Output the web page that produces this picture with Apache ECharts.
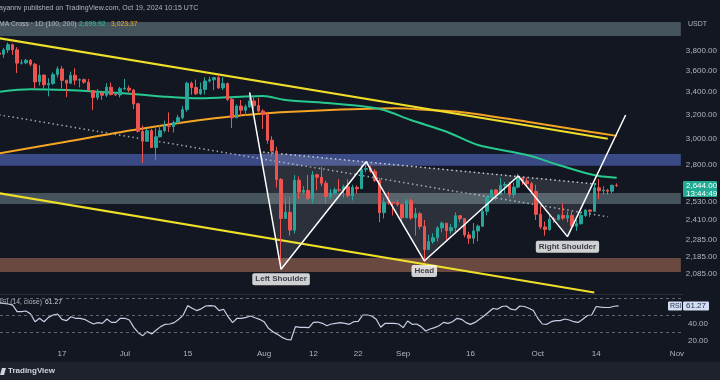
<!DOCTYPE html>
<html><head><meta charset="utf-8">
<script src="https://cdn.jsdelivr.net/npm/echarts@6/dist/echarts.min.js"></script>
<style>html,body{margin:0;padding:0;background:#131722;overflow:hidden}#c{width:720px;height:380px}</style>
</head><body><div id="c"></div>
<script>
// ---------------- DATA ----------------
const startDate = '2024-06-03'; // first daily candle, one candle per day
const opens = [3780,3767,3811,3865,3812,3678,3681,3706,3667,3497,3561,3469,3481,3566,3621,3511,3484,3560,3513,3518,
3494,3416,3353,3394,3373,3447,3380,3376,3433,3438,3420,3296,3060,2980,3066,2930,3016,3066,3101,3100,
3134,3175,3245,3484,3444,3387,3426,3505,3517,3537,3440,3481,3336,3174,3276,3240,3270,3321,3280,3232,
3203,2988,2902,2688,2420,2460,2345,2682,2597,2610,2555,2722,2704,2661,2568,2592,2614,2612,2636,2573,
2631,2622,2763,2768,2747,2681,2458,2528,2527,2526,2513,2425,2538,2423,2451,2368,2225,2273,2297,2359,
2389,2341,2361,2438,2418,2315,2294,2340,2370,2467,2561,2613,2581,2646,2652,2581,2633,2697,2677,2658,
2603,2447,2365,2349,2415,2414,2440,2422,2440,2370,2386,2439,2475,2467,2628,2607,2611,2604,2646];
const highs = [3830,3832,3888,3877,3840,3714,3720,3718,3680,3658,3568,3530,3587,3646,3650,3517,3595,3627,3530,3528,
3525,3420,3430,3401,3484,3490,3400,3450,3525,3462,3430,3305,3110,3080,3080,3085,3110,3150,3220,3150,
3200,3276,3498,3500,3518,3490,3540,3545,3545,3563,3540,3490,3350,3290,3330,3290,3400,3366,3350,3249,
3225,3020,2935,2698,2555,2560,2720,2710,2640,2720,2750,2730,2780,2680,2620,2630,2690,2650,2690,2650,
2645,2800,2820,2790,2765,2700,2560,2600,2530,2545,2515,2550,2553,2490,2462,2410,2315,2325,2370,2400,
2390,2385,2460,2440,2420,2335,2390,2380,2490,2570,2615,2620,2700,2670,2670,2665,2730,2705,2700,2670,
2650,2500,2400,2440,2430,2450,2520,2465,2465,2410,2460,2480,2480,2660,2690,2640,2620,2650,2660];
const lows = [3755,3730,3780,3760,3580,3664,3667,3647,3435,3462,3425,3363,3469,3538,3435,3355,3478,3466,3445,3478,
3413,3240,3330,3332,3355,3370,3367,3353,3420,3400,3250,3050,2810,2975,2925,2830,3010,3050,3055,3050,
3120,3160,3225,3378,3375,3375,3380,3490,3420,3430,3420,3320,3087,3170,3190,3190,3260,3250,3220,3080,
2960,2860,2630,2111,2420,2310,2323,2550,2583,2540,2520,2610,2640,2520,2550,2580,2600,2560,2560,2540,
2590,2620,2740,2735,2670,2395,2420,2510,2440,2500,2400,2420,2410,2310,2350,2150,2223,2260,2275,2330,
2280,2322,2335,2396,2300,2260,2260,2275,2365,2440,2540,2540,2580,2590,2560,2555,2625,2650,2640,2590,
2410,2350,2310,2340,2390,2405,2410,2395,2360,2340,2380,2430,2430,2465,2550,2580,2580,2590,2635];
const closes = [3767,3811,3865,3812,3678,3681,3706,3667,3497,3561,3469,3481,3566,3621,3511,3484,3560,3513,3518,3494,
3416,3353,3394,3373,3447,3380,3376,3433,3438,3420,3296,3060,2980,3066,2930,3016,3066,3101,3100,3134,
3175,3245,3484,3444,3387,3426,3505,3517,3537,3440,3481,3336,3174,3276,3240,3270,3321,3280,3232,3203,
2988,2902,2688,2420,2460,2345,2682,2597,2610,2555,2722,2704,2661,2568,2592,2614,2612,2636,2573,2631,
2622,2763,2768,2747,2681,2458,2528,2527,2526,2513,2425,2538,2423,2451,2368,2225,2273,2297,2359,2389,
2341,2361,2438,2418,2315,2294,2340,2370,2467,2561,2613,2581,2646,2652,2581,2633,2697,2677,2658,2603,
2447,2365,2349,2415,2414,2440,2422,2440,2370,2386,2439,2475,2467,2628,2607,2611,2604,2646,2644];
const rsi = [65.0,64.3,63.5,62.4,54.5,54.5,55.3,51.8,42.7,46.7,
42.7,47.8,50.6,51.8,45.5,43.9,48.6,46.7,46.7,45.5,
42.7,40.0,41.6,40.8,45.9,41.9,41.9,46.7,46.7,44.7,
36.1,29.8,26.3,31.0,28.2,32.9,36.9,39.6,40.0,41.6,
45.5,50.6,61.6,58.6,55.8,57.8,61.2,61.6,61.2,55.8,
57.4,48.6,41.6,46.7,46.7,47.8,49.4,47.4,45.5,42.7,
34.9,31.0,27.8,24.3,22.0,21.2,36.9,36.1,36.1,35.7,
41.9,42.3,40.8,38.0,40.0,40.8,41.6,40.8,39.6,42.7,
43.1,50.6,50.6,49.4,45.5,36.1,40.8,40.8,40.8,40.0,
35.7,43.5,39.6,40.0,36.9,31.8,34.1,35.7,38.0,41.9,
40.8,42.7,46.7,45.5,41.6,39.6,41.9,45.5,49.4,53.8,
58.2,57.4,60.6,61.2,57.4,56.5,61.2,60.6,58.6,55.8,
46.7,40.0,39.6,42.7,43.9,43.9,45.9,44.7,42.7,41.9,
45.5,49.8,50.6,60.6,59.8,59.4,59.4,60.9,61.27];
const ma100 = [['2024-06-03',3405],['2024-06-10',3427],['2024-06-18',3420],['2024-06-25',3405],['2024-07-03',3384],
['2024-07-10',3360],['2024-07-18',3345],['2024-07-27',3360],['2024-08-01',3366],['2024-08-06',3330],['2024-08-16',3300],
['2024-08-24',3270],['2024-08-28',3241],['2024-09-03',3155],['2024-09-11',3057],['2024-09-18',2950],['2024-09-29',2871],
['2024-10-06',2795],['2024-10-12',2735],['2024-10-15',2713],['2024-10-19',2700]];
const ma200 = [['2024-06-03',2884],['2024-06-18',2976],['2024-07-03',3071],['2024-07-18',3155],['2024-07-27',3194],
['2024-08-01',3212],['2024-08-16',3241],['2024-08-31',3256],['2024-09-07',3241],['2024-09-14',3224],['2024-09-29',3141],
['2024-10-13',3057],['2024-10-19',3023]];
const upperChannel = [['2024-06-03',3933],['2024-10-17',3000]];
const lowerChannel = [['2024-06-03',2590],['2024-10-14',1982]];
const longDotted = [['2024-06-03',3199],['2024-10-17',2431]];
const neckline = [['2024-08-01',2894],['2024-10-15',2653]];
const pattern = [['2024-07-29',3396],['2024-08-05',2110],['2024-08-24',2820],['2024-09-06',2158],['2024-09-27',2713],['2024-10-08',2304],['2024-10-21',3198]];
const patternNames = ['Left Shoulder','Head','Right Shoulder'];
const patternNameAt = [1,3,5];
const zones = [[3957,4109],[2789,2879],[2516,2592],[2095,2175]];
const yTickValues = [3800,3600,3400,3200,3000,2800,2530,2410,2285,2185,2085];
const rsiTickValues = [40,20];
const rsiLevels = [70,50,30];
const xTickDates = ['2024-06-17','2024-07-01','2024-07-15','2024-08-01','2024-08-12','2024-08-22','2024-09-01','2024-09-16','2024-10-01','2024-10-14','2024-11-01'];
const xTickLabels = ['17','Jul','15','Aug','12','22','Sep','16','Oct','14','Nov'];

// ---------------- BUILD ----------------
const DAY = 86400000;
const ts = s => Date.parse(s + 'T00:00:00Z');
const t0 = ts(startDate);
const L = Math.log;
const toPt = p => [ts(p[0]), L(p[1])];
const candleData = opens.map((o,i)=>[t0+i*DAY, L(o), L(closes[i]), L(lows[i]), L(highs[i])]);
const rsiData = rsi.map((v,i)=>[t0+i*DAY, v]);
const anchor = ts('2024-06-17');
const xMin = anchor - 13.81*DAY, xMax = anchor + 138.34*DAY;
const FONT = 'Liberation Sans, Arial, sans-serif';
const fmtPrice = v => { const p = Math.round(Math.exp(v)); return String(p).replace(/\B(?=(\d{3})+(?!\d))/g, ',') + '.00'; };
const xTickTs = xTickDates.map(ts);
const zoneColors = ['#45535c','#3a4a84','#45535c','#6a4a40'];

function intersect(a1,a2,b1,b2){
  const d = (a2[0]-a1[0])*(b2[1]-b1[1]) - (a2[1]-a1[1])*(b2[0]-b1[0]);
  const u = ((b1[0]-a1[0])*(b2[1]-b1[1]) - (b1[1]-a1[1])*(b2[0]-b1[0]))/d;
  return [a1[0]+u*(a2[0]-a1[0]), a1[1]+u*(a2[1]-a1[1])];
}
const P = pattern.map(toPt);
const N = neckline.map(toPt);
const triangles = [
  [intersect(P[0],P[1],N[0],N[1]), P[1], P[2]],
  [P[2], P[3], P[4]],
  [P[4], P[5], intersect(P[5],P[6],N[0],N[1])]
];

const lineS = (data, color, width, type, z) => ({type:'line', xAxisIndex:0, yAxisIndex:0, data, symbol:'none', silent:true, z,
  lineStyle:{color, width, type: type||'solid'}});

const chart = echarts.init(document.getElementById('c'), null, {renderer:'canvas'});
const option = {
  animation:false,
  backgroundColor:'#131722',
  textStyle:{fontFamily:FONT},
  grid:[{left:0,right:37,top:16,height:278},{left:0,right:37,top:294.25,height:51}],
  xAxis:[
    {type:'value',gridIndex:0,min:xMin,max:xMax,show:false},
    {type:'value',gridIndex:1,min:xMin,max:xMax,axisLine:{show:false},axisTick:{show:false},splitLine:{show:false},
     axisLabel:{customValues:xTickTs,color:'#b2b5be',fontSize:8,margin:5,fontFamily:FONT,
       formatter:(v)=>{let k=0,b=Infinity;xTickTs.forEach((t,i)=>{if(Math.abs(t-v)<b){b=Math.abs(t-v);k=i;}});return xTickLabels[k];}}}
  ],
  yAxis:[
    {type:'value',gridIndex:0,position:'right',min:L(1974),max:L(4176),axisLine:{show:false},axisTick:{show:false},splitLine:{show:false},
     axisLabel:{customValues:yTickValues.map(L),formatter:fmtPrice,color:'#b2b5be',fontSize:8,margin:5,fontFamily:FONT}},
    {type:'value',gridIndex:1,position:'right',min:15,max:75,axisLine:{show:false},axisTick:{show:false},splitLine:{show:false},
     axisLabel:{customValues:rsiTickValues,formatter:v=>v.toFixed(2),color:'#b2b5be',fontSize:8,margin:5,fontFamily:FONT}}
  ],
  series:[
    {type:'line',xAxisIndex:0,yAxisIndex:0,data:[[xMin,L(3000)]],symbol:'none',lineStyle:{opacity:0},silent:true,z:1,
     markArea:{silent:true,data:zones.map((zn,i)=>[{yAxis:L(zn[0]),itemStyle:{color:zoneColors[i]}},{yAxis:L(zn[1])}])}},
    {type:'custom',xAxisIndex:0,yAxisIndex:0,silent:true,z:2,data:triangles.map(t=>t[0]),
     renderItem:(params,api)=>({type:'polygon',shape:{points:triangles[params.dataIndex].map(p=>api.coord(p))},style:{fill:'rgba(255,255,255,0.11)'}})},
    lineS(longDotted.map(toPt),'rgba(210,212,220,0.75)',1.5,[1.5,3],3),
    lineS(neckline.map(toPt),'rgba(225,227,235,0.85)',1.5,[1.5,3],3),
    Object.assign(lineS(ma200.map(toPt),'#f5a524',2,'solid',4),{smooth:0.3}),
    Object.assign(lineS(ma100.map(toPt),'#27c98f',2,'solid',4),{smooth:0.3}),
    lineS(upperChannel.map(toPt),'#efdf2a',2,'solid',4),
    lineS(lowerChannel.map(toPt),'#efdf2a',2,'solid',4),
    {type:'candlestick',xAxisIndex:0,yAxisIndex:0,z:5,silent:true,barWidth:3,encode:{x:0,y:[1,2,3,4]},data:candleData,
     itemStyle:{color:'#26a69a',color0:'#ef5350',borderColor:'#26a69a',borderColor0:'#ef5350',borderWidth:1}},
    lineS(P,'#ffffff',1.5,'solid',6),
    {type:'scatter',xAxisIndex:0,yAxisIndex:0,z:7,silent:true,symbolSize:0,itemStyle:{color:'rgba(0,0,0,0)'},
     data:patternNameAt.map((k,i)=>({value:P[k],name:patternNames[i]})),
     label:{show:true,position:'bottom',distance:4,formatter:p=>p.name,backgroundColor:'#ffffff',color:'#131722',
       fontSize:8,fontWeight:'bold',fontFamily:FONT,padding:[2,3,2,3],borderRadius:2}},
    {type:'line',xAxisIndex:1,yAxisIndex:1,data:rsiData,symbol:'none',silent:true,z:4,lineStyle:{color:'#c9d0e6',width:1.2},
     markLine:{silent:true,symbol:['none','none'],label:{show:false},lineStyle:{color:'rgba(120,123,134,0.8)',type:[3,3],width:1},
       data:rsiLevels.map(v=>({yAxis:v}))}}
  ]
};
chart.setOption(option);

const lastClose = closes[closes.length-1];
const py = chart.convertToPixel({yAxisIndex:0}, L(lastClose));
const ry = chart.convertToPixel({yAxisIndex:1}, rsi[rsi.length-1]);
const T = (x,y,text,fill,size,extra) => ({type:'text',x,y,z:100,style:Object.assign({text,fill,fontSize:size||7,fontFamily:FONT,verticalAlign:'middle'},extra||{})});
chart.setOption({graphic:{elements:[
  {type:'rect',shape:{x:0,y:294,width:683,height:1},style:{fill:'#2a2e39'},z:90},
  T(-1,8,'ayannv published on TradingView.com, Oct 19, 2024 10:15 UTC','#b2b5be',7),
  T(-1,24,'MA Cross · 1D (100, 200)','#b2b5be',6.8),
  T(79,24,'2,699.92','#2bc58f',6.8),
  T(111,24,'3,023.37','#f5a524',6.8),
  T(688,24,'USDT','#b2b5be',7),
  T(-3,302,'RSI (14, close)','#b2b5be',6.8),
  T(45,302,'61.27','#d1d4dc',6.8),
  {type:'rect',z:100,shape:{x:683,y:py-4.5,width:34,height:16,r:1},style:{fill:'#22ab94'}},
  T(686,py,'2,644.00','#ffffff',8),
  T(686,py+8,'13:44:49','#ffffff',8),
  {type:'rect',z:100,shape:{x:668,y:ry-4.5,width:14,height:9,r:1},style:{fill:'#d3def2'}},
  T(670,ry,'RSI','#1c2b4d',7),
  {type:'rect',z:100,shape:{x:683,y:ry-4.5,width:26,height:9,r:1},style:{fill:'#d3def2'}},
  T(686,ry,'61.27','#1c2b4d',8),
  {type:'rect',z:100,shape:{x:0,y:362,width:720,height:18},style:{fill:'#1e222d'}},
  {type:'polygon',z:101,shape:{points:[[2,368],[6,368],[4,375],[0,375]]},style:{fill:'#d1d4dc'}},
  T(8,371,'TradingView','#d1d4dc',8,{fontWeight:'bold'})
]}});
</script></body></html>
